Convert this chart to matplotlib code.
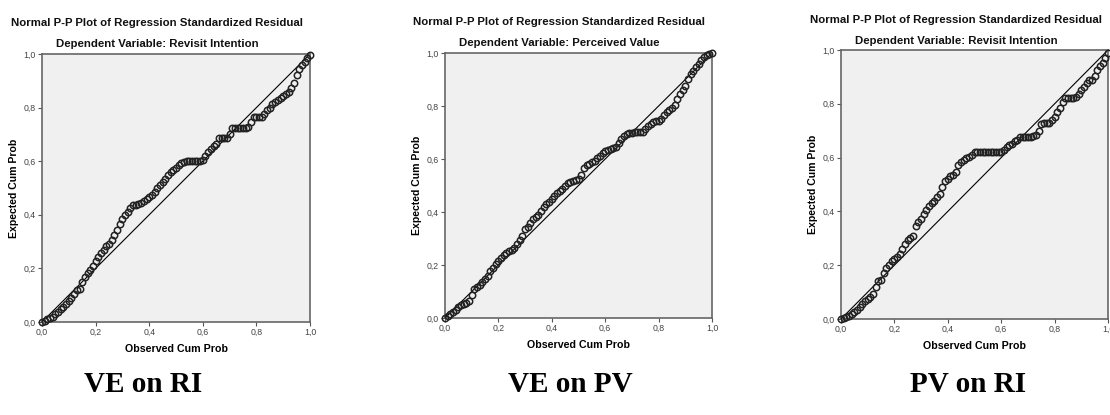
import matplotlib
matplotlib.use("Agg")
import matplotlib.pyplot as plt

# observed cum prob positions at which the three curves were read
observed = [0.00, 0.01, 0.02, 0.03, 0.04, 0.05, 0.06, 0.07, 0.08, 0.09,
            0.10, 0.11, 0.12, 0.13, 0.14, 0.15, 0.16, 0.17, 0.18, 0.19,
            0.20, 0.21, 0.22, 0.23, 0.24, 0.25, 0.26, 0.27, 0.28, 0.29,
            0.30, 0.31, 0.32, 0.33, 0.34, 0.35, 0.36, 0.37, 0.38, 0.39,
            0.40, 0.41, 0.42, 0.43, 0.44, 0.45, 0.46, 0.47, 0.48, 0.49,
            0.50, 0.51, 0.52, 0.53, 0.54, 0.55, 0.56, 0.57, 0.58, 0.59,
            0.60, 0.61, 0.62, 0.63, 0.64, 0.65, 0.66, 0.67, 0.68, 0.69,
            0.70, 0.71, 0.72, 0.73, 0.74, 0.75, 0.76, 0.77, 0.78, 0.79,
            0.80, 0.81, 0.82, 0.83, 0.84, 0.85, 0.86, 0.87, 0.88, 0.89,
            0.90, 0.91, 0.92, 0.93, 0.94, 0.95, 0.96, 0.97, 0.98, 0.99,
            1.00]

# expected cum prob, VE on RI
expected_ve_ri = [0.000, 0.005, 0.010, 0.014, 0.020, 0.028, 0.037, 0.047, 0.057, 0.068,
                  0.078, 0.088, 0.105, 0.120, 0.125, 0.150, 0.168, 0.182, 0.195, 0.210,
                  0.227, 0.242, 0.258, 0.270, 0.282, 0.292, 0.305, 0.325, 0.345, 0.365,
                  0.383, 0.398, 0.410, 0.425, 0.435, 0.437, 0.440, 0.443, 0.450, 0.458,
                  0.467, 0.474, 0.485, 0.500, 0.512, 0.523, 0.535, 0.550, 0.560, 0.567,
                  0.575, 0.585, 0.593, 0.598, 0.600, 0.600, 0.600, 0.600, 0.600, 0.600,
                  0.605, 0.620, 0.635, 0.645, 0.655, 0.665, 0.685, 0.685, 0.685, 0.685,
                  0.700, 0.725, 0.725, 0.725, 0.725, 0.725, 0.725, 0.728, 0.745, 0.764,
                  0.764, 0.764, 0.766, 0.775, 0.790, 0.800, 0.812, 0.822, 0.830, 0.836,
                  0.843, 0.850, 0.858, 0.872, 0.893, 0.920, 0.945, 0.960, 0.970, 0.985,
                  0.998]

# expected cum prob, VE on PV
expected_ve_pv = [0.000, 0.008, 0.016, 0.024, 0.032, 0.042, 0.050, 0.054, 0.057, 0.064,
                  0.085, 0.108, 0.116, 0.124, 0.135, 0.146, 0.160, 0.177, 0.190, 0.202,
                  0.215, 0.228, 0.238, 0.245, 0.252, 0.258, 0.265, 0.278, 0.295, 0.310,
                  0.335, 0.345, 0.360, 0.372, 0.383, 0.390, 0.402, 0.418, 0.430, 0.436,
                  0.450, 0.462, 0.470, 0.478, 0.486, 0.497, 0.508, 0.515, 0.518, 0.520,
                  0.525, 0.540, 0.565, 0.578, 0.582, 0.587, 0.594, 0.603, 0.613, 0.622,
                  0.630, 0.635, 0.638, 0.641, 0.645, 0.660, 0.675, 0.685, 0.694, 0.698,
                  0.700, 0.702, 0.702, 0.702, 0.703, 0.712, 0.724, 0.733, 0.740, 0.743,
                  0.745, 0.752, 0.765, 0.776, 0.785, 0.792, 0.805, 0.825, 0.845, 0.860,
                  0.874, 0.903, 0.922, 0.933, 0.946, 0.960, 0.972, 0.985, 0.993, 0.998,
                  1.000]

# expected cum prob, PV on RI
expected_pv_ri = [0.000, 0.004, 0.008, 0.013, 0.020, 0.027, 0.035, 0.045, 0.055, 0.066,
                  0.074, 0.083, 0.094, 0.120, 0.140, 0.144, 0.170, 0.188, 0.200, 0.214,
                  0.224, 0.229, 0.240, 0.262, 0.280, 0.293, 0.302, 0.310, 0.345, 0.360,
                  0.373, 0.390, 0.405, 0.421, 0.430, 0.440, 0.453, 0.466, 0.490, 0.512,
                  0.522, 0.531, 0.537, 0.548, 0.573, 0.582, 0.592, 0.598, 0.603, 0.610,
                  0.619, 0.619, 0.619, 0.619, 0.619, 0.619, 0.619, 0.619, 0.619, 0.619,
                  0.620, 0.628, 0.638, 0.645, 0.650, 0.660, 0.667, 0.678, 0.678, 0.678,
                  0.678, 0.678, 0.680, 0.685, 0.698, 0.725, 0.730, 0.730, 0.730, 0.738,
                  0.752, 0.768, 0.785, 0.805, 0.820, 0.820, 0.820, 0.820, 0.825, 0.838,
                  0.850, 0.862, 0.878, 0.890, 0.890, 0.905, 0.925, 0.940, 0.952, 0.972,
                  0.990]

titles = ["Dependent Variable: Revisit Intention",
          "Dependent Variable: Perceived Value",
          "Dependent Variable: Revisit Intention"]
captions = ["VE on RI", "VE on PV", "PV on RI"]
series = [expected_ve_ri, expected_ve_pv, expected_pv_ri]
tick_vals = [0.0, 0.2, 0.4, 0.6, 0.8, 1.0]
tick_labels = ["0,0", "0,2", "0,4", "0,6", "0,8", "1,0"]

W, H = 1110, 415
fig = plt.figure(figsize=(W / 100, H / 100), dpi=100)
fig.patch.set_facecolor("white")
plt.rcParams["font.family"] = ["Liberation Sans", "DejaVu Sans"]

# axes boxes in pixels: left, top, right, bottom
boxes = [(42, 54, 310, 322), (445, 53, 712, 318), (841, 50, 1108, 319)]
# title centres / y positions in pixels
title_pos = [(157, 23, 44), (559, 22, 43), (956, 20, 41)]
ylabel_x = [14, 417, 813]
caption_x = [143, 570, 968]

for i in range(3):
    l, t, r, b = boxes[i]
    ax = fig.add_axes([l / W, (H - b) / H, (r - l) / W, (b - t) / H])
    ax.set_facecolor("#f0f0f0")
    ax.plot([0, 1], [0, 1], color="black", lw=0.8, zorder=2)
    ax.plot(observed, series[i], linestyle="none", marker="o", ms=4.6,
            mfc="none", mec="#222222", mew=1.1, zorder=3, clip_on=False)
    ax.set_xlim(0, 1)
    ax.set_ylim(0, 1)
    ax.set_xticks(tick_vals)
    ax.set_xticklabels(tick_labels)
    ax.set_yticks(tick_vals)
    ax.set_yticklabels(tick_labels)
    ax.tick_params(direction="out", length=3, width=0.8, colors="#555555",
                   labelcolor="#444444", labelsize=6.3, pad=1.5)
    for side in ["top", "right", "left", "bottom"]:
        ax.spines[side].set_color("#666666")
        ax.spines[side].set_linewidth(1.2)
    ax.set_xlabel("Observed Cum Prob", fontsize=7.7, fontweight="bold", labelpad=5)

    cx, ty, sy = title_pos[i]
    fig.text(cx / W, 1 - ty / H, "Normal P-P Plot of Regression Standardized Residual",
             ha="center", va="center", fontsize=8.2, fontweight="bold", color="#111111")
    fig.text(cx / W, 1 - sy / H, titles[i], ha="center", va="center",
             fontsize=8.2, fontweight="bold", color="#111111")
    fig.text(ylabel_x[i] / W, 1 - ((t + b) / 2) / H, "Expected Cum Prob", rotation=90,
             ha="center", va="center", fontsize=7.6, fontweight="bold")
    fig.text(caption_x[i] / W, 1 - 384 / H, captions[i], ha="center", va="center",
             fontsize=21, fontweight="bold", family=["Liberation Serif", "DejaVu Serif"])

fig.savefig("out.png", dpi=100)
